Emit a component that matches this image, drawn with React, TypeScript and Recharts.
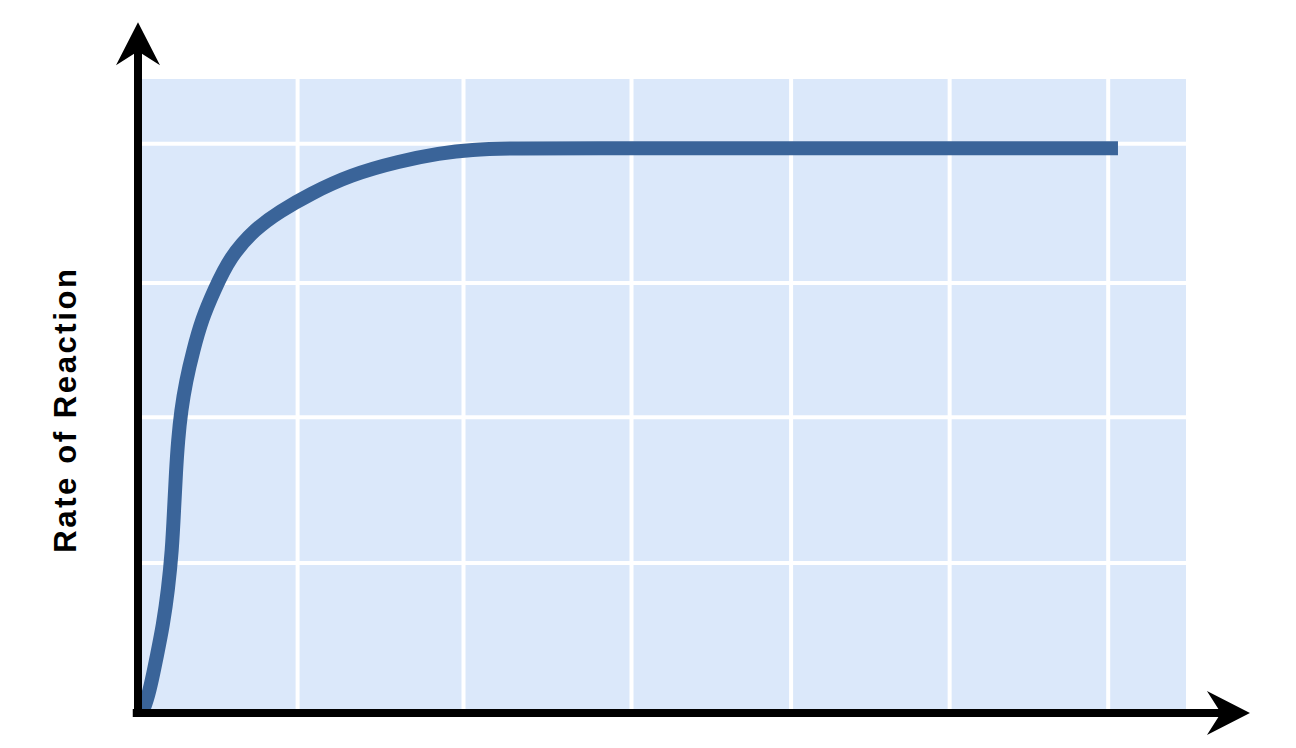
import { LineChart, Line, XAxis, YAxis, CartesianGrid, ReferenceLine } from "recharts";

// Reaction rate curve (time and rate in % of the axis range)
const times = [0.38, 0.86, 1.33, 1.81, 2.38, 2.86, 3.24, 3.43, 3.62, 3.81, 4.1, 4.57, 5.24, 6.1, 7.24, 8.76, 11.14, 13.52, 16.38, 20.19, 24.95, 28.76, 31.62, 36.0, 42.0, 60.0, 80.0, 93.33];
const rates = [0, 2.0, 5.2, 9.1, 13.8, 19.3, 25.6, 31.8, 38.1, 42.8, 47.5, 52.2, 56.9, 62.0, 66.4, 71.7, 76.1, 78.9, 81.6, 84.6, 86.8, 88.0, 88.6, 88.8, 88.8, 88.8, 88.8, 88.8];

// grid positions
const xGrid = [15.2, 31.0, 47.0, 62.2, 77.3, 92.4];
const yGrid = [23.6, 46.5, 67.6, 89.5];

// axis arrows run a bit past the plot area
const xAxisEnd = [-0.5, 105.9];
const yAxisEnd = [-0.6, 108.6];

const data = times.map((t, i) => ({ t, rate: rates[i] }));

const LINE_BLUE = "#3a6499";
const AREA_BLUE = "#dbe8fa";

// thick black line with a swept arrowhead at its (x2, y2) end
function ArrowAxis(props: any) {
  const { x1, y1, x2, y2 } = props;
  const dx = x2 - x1;
  const dy = y2 - y1;
  const len = Math.sqrt(dx * dx + dy * dy) || 1;
  const ux = dx / len;
  const uy = dy / len;
  const px = -uy;
  const py = ux;
  const headLen = 43;
  const halfW = 22;
  const notch = 29;
  const bx = x2 - ux * headLen;
  const by = y2 - uy * headLen;
  const nx = x2 - ux * notch;
  const ny = y2 - uy * notch;
  const pts = [
    [x2, y2],
    [bx + px * halfW, by + py * halfW],
    [nx, ny],
    [bx - px * halfW, by - py * halfW],
  ]
    .map(p => p.join(","))
    .join(" ");
  return (
    <g>
      <line x1={x1} y1={y1} x2={nx + ux * 2} y2={ny + uy * 2} stroke="#000" strokeWidth={8} />
      <polygon points={pts} fill="#000" />
    </g>
  );
}

// vertical title, placed left of the y axis line
function AxisTitle(props: any) {
  const { viewBox } = props;
  const cx = viewBox.x - 72;
  const cy = viewBox.y + viewBox.height / 2 + 40;
  return (
    <text
      x={cx}
      y={cy}
      transform={`rotate(-90, ${cx}, ${cy})`}
      textAnchor="middle"
      dominantBaseline="central"
      fontFamily="'Liberation Sans', Arial, sans-serif"
      fontWeight="bold"
      fontSize={31}
      letterSpacing={2.6}
      fill="#000"
    >
      Rate of Reaction
    </text>
  );
}

export default function App() {
  return (
    <div style={{ position: "absolute", left: 0, top: 0, width: 1296, height: 748, background: "#fff" }}>
      <LineChart width={1296} height={748} data={data} margin={{ top: 77, right: 108, bottom: 35, left: 138 }}>
        <CartesianGrid fill={AREA_BLUE} stroke="#fff" strokeWidth={4} />
        <XAxis type="number" dataKey="t" domain={[0, 100]} ticks={xGrid} hide />
        <YAxis type="number" domain={[0, 100]} ticks={yGrid} hide />
        <Line
          type="basis"
          dataKey="rate"
          stroke={LINE_BLUE}
          strokeWidth={14}
          strokeLinecap="butt"
          strokeLinejoin="round"
          dot={false}
          activeDot={false}
          isAnimationActive={false}
        />
        <ReferenceLine
          segment={[{ x: xAxisEnd[0], y: 0 }, { x: xAxisEnd[1], y: 0 }]}
          ifOverflow="visible"
          shape={ArrowAxis}
        />
        <ReferenceLine
          segment={[{ x: 0, y: yAxisEnd[0] }, { x: 0, y: yAxisEnd[1] }]}
          ifOverflow="visible"
          shape={ArrowAxis}
          label={{ content: AxisTitle }}
        />
      </LineChart>
    </div>
  );
}
